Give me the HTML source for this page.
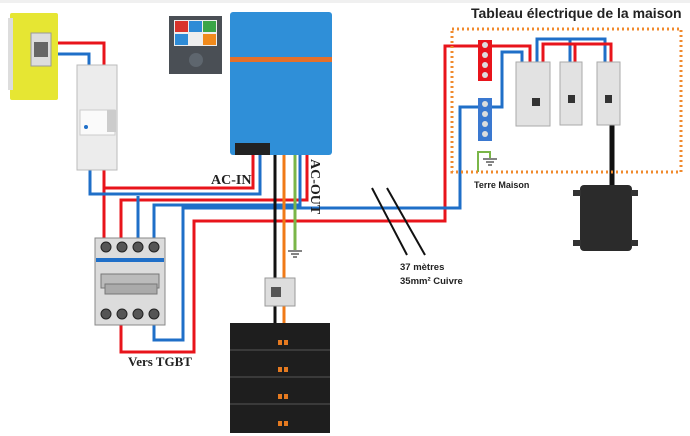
<!DOCTYPE html>
<html><head><meta charset="utf-8"><style>
html,body{margin:0;padding:0;background:#fff;width:690px;height:436px;overflow:hidden}
svg{display:block}
.t{font-family:"Liberation Sans",sans-serif;font-weight:bold}
.s{font-family:"Liberation Serif",serif;font-weight:bold}
</style></head><body>
<svg width="690" height="436" viewBox="0 0 690 436" xmlns="http://www.w3.org/2000/svg">
<rect width="690" height="436" fill="#fff"/>
<rect x="0" y="0" width="690" height="3" fill="#f0f0f0"/>
<!-- wires -->
<g fill="none" stroke-width="3">
<polyline points="58,43 104,43 104,66" stroke="#e8141b"/>
<polyline points="58,54 89,54 89,66" stroke="#1f6fc8"/>
<polyline points="104,168 104,240" stroke="#e8141b"/>
<polyline points="104,188 253,188 253,155" stroke="#e8141b"/>
<polyline points="90,168 90,194 260,194 260,155" stroke="#1f6fc8"/>
<polyline points="121,240 121,200 307,200 307,155" stroke="#e8141b"/>
<polyline points="138,240 138,196" stroke="#1f6fc8"/>
<polyline points="154,240 154,205 300,205 300,155" stroke="#1f6fc8"/>
<polyline points="121,324 121,352 194,352 194,221 445,221 445,46 478,46" stroke="#e8141b"/>
<polyline points="154,324 154,340 183,340 183,208 460,208 460,107 478,107" stroke="#1f6fc8"/>
<line x1="275" y1="155" x2="275" y2="323" stroke="#111"/>
<line x1="284" y1="155" x2="284" y2="323" stroke="#f07a17"/>
<line x1="295" y1="155" x2="295" y2="250" stroke="#7ab648"/>
<polyline points="492,46 530,46 530,65" stroke="#e8141b"/>
<polyline points="492,107 502,107 502,52 522,52 522,65" stroke="#1f6fc8"/>
<polyline points="537,65 537,39 605,39 605,65" stroke="#1f6fc8"/>
<polyline points="570,65 570,39" stroke="#1f6fc8"/>
<polyline points="543,65 543,44 611,44 611,65" stroke="#e8141b"/>
<polyline points="575,65 575,44" stroke="#e8141b"/>
<polyline points="478,172 478,152 490,152 490,158" stroke="#7ab648" stroke-width="2"/>
<line x1="612" y1="125" x2="612" y2="187" stroke="#111" stroke-width="5"/>
</g>
<!-- grounds -->
<g stroke="#333" stroke-width="1.2">
<line x1="288" y1="251" x2="302" y2="251"/><line x1="291" y1="254" x2="299" y2="254"/><line x1="293" y1="257" x2="297" y2="257"/>
<line x1="483" y1="159" x2="497" y2="159"/><line x1="486" y1="162" x2="494" y2="162"/><line x1="488" y1="165" x2="492" y2="165"/>
</g>
<!-- meter -->
<rect x="10" y="13" width="48" height="87" fill="#e6e633" rx="2"/>
<rect x="8" y="18" width="5" height="72" fill="#ddd"/>
<rect x="31" y="33" width="20" height="33" fill="#ddd" stroke="#999"/>
<rect x="34" y="42" width="14" height="15" fill="#666"/>
<!-- breaker -->
<rect x="77" y="65" width="40" height="105" fill="#ececec" stroke="#bbb"/>
<rect x="80" y="110" width="35" height="25" fill="#fafafa" stroke="#ccc"/>
<rect x="107" y="110" width="9" height="22" fill="#ccc"/>
<circle cx="86" cy="127" r="2" fill="#1f6fc8"/>
<!-- control panel -->
<rect x="169" y="16" width="53" height="58" fill="#4a4f55"/>
<rect x="174" y="20" width="43" height="26" fill="#eee"/>
<rect x="175" y="21" width="13" height="11" fill="#d9342c"/><rect x="189" y="21" width="13" height="11" fill="#2e8bd6"/><rect x="203" y="21" width="13" height="11" fill="#3aa548"/>
<rect x="175" y="34" width="13" height="11" fill="#2e8bd6"/><rect x="203" y="34" width="13" height="11" fill="#f08a1c"/>
<circle cx="196" cy="60" r="7" fill="#5e666e"/>
<!-- multiplus -->
<rect x="230" y="12" width="102" height="143" fill="#2f8fd8" rx="3"/>
<rect x="230" y="57" width="102" height="5" fill="#e5702a"/>
<rect x="235" y="143" width="35" height="12" fill="#222"/>
<!-- contactor -->
<rect x="95" y="238" width="70" height="87" fill="#dcdcdc" stroke="#888"/>
<rect x="96" y="258" width="68" height="4" fill="#1f6fc8"/>
<g fill="#555" stroke="#222"><circle cx="106" cy="247" r="5"/><circle cx="122" cy="247" r="5"/><circle cx="138" cy="247" r="5"/><circle cx="154" cy="247" r="5"/>
<circle cx="106" cy="314" r="5"/><circle cx="122" cy="314" r="5"/><circle cx="138" cy="314" r="5"/><circle cx="154" cy="314" r="5"/></g>
<rect x="101" y="274" width="58" height="14" fill="#bbb" stroke="#777"/>
<rect x="105" y="284" width="52" height="10" fill="#aaa" stroke="#777"/>
<!-- small box & batteries -->
<rect x="265" y="278" width="30" height="28" fill="#ddd" stroke="#999"/>
<rect x="271" y="287" width="10" height="10" fill="#555"/>
<rect x="230" y="323" width="100" height="110" fill="#1e1e1e"/>
<g stroke="#555"><line x1="230" y1="350" x2="330" y2="350"/><line x1="230" y1="377" x2="330" y2="377"/><line x1="230" y1="404" x2="330" y2="404"/></g>
<g fill="#e57a20"><rect x="278" y="340" width="4" height="5"/><rect x="284" y="340" width="4" height="5"/><rect x="278" y="367" width="4" height="5"/><rect x="284" y="367" width="4" height="5"/><rect x="278" y="394" width="4" height="5"/><rect x="284" y="394" width="4" height="5"/><rect x="278" y="421" width="4" height="5"/><rect x="284" y="421" width="4" height="5"/></g>
<!-- house panel -->
<rect x="452" y="29" width="229" height="143" fill="none" stroke="#f08a2c" stroke-width="3" stroke-dasharray="2,3"/>
<rect x="478" y="40" width="14" height="41" fill="#e8141b"/>
<rect x="478" y="98" width="14" height="43" fill="#3a78d0"/>
<g fill="#ddd"><circle cx="485" cy="45" r="3"/><circle cx="485" cy="55" r="3"/><circle cx="485" cy="65" r="3"/><circle cx="485" cy="75" r="3"/>
<circle cx="485" cy="104" r="3"/><circle cx="485" cy="114" r="3"/><circle cx="485" cy="124" r="3"/><circle cx="485" cy="134" r="3"/></g>
<rect x="516" y="62" width="34" height="64" fill="#e2e2e2" stroke="#aaa"/>
<rect x="560" y="62" width="22" height="63" fill="#e2e2e2" stroke="#aaa"/>
<rect x="597" y="62" width="23" height="63" fill="#e2e2e2" stroke="#aaa"/>
<rect x="532" y="98" width="8" height="8" fill="#333"/><rect x="568" y="95" width="7" height="8" fill="#333"/><rect x="605" y="95" width="7" height="8" fill="#333"/>
<!-- micro-inverter -->
<rect x="580" y="185" width="52" height="66" fill="#2b2b2b" rx="4"/>
<rect x="573" y="190" width="8" height="6" fill="#333"/><rect x="631" y="190" width="7" height="6" fill="#333"/><rect x="573" y="240" width="8" height="6" fill="#333"/><rect x="631" y="240" width="7" height="6" fill="#333"/>
<!-- cut marks -->
<g stroke="#111" stroke-width="2"><line x1="372" y1="188" x2="407" y2="255"/><line x1="387" y1="188" x2="425" y2="255"/></g>
<!-- text -->
<text x="471" y="18" class="t" font-size="14" fill="#222">Tableau électrique de la maison</text>
<text x="474" y="188" class="t" font-size="9" fill="#222">Terre Maison</text>
<text x="400" y="270" class="t" font-size="9.5" fill="#222">37 mètres</text>
<text x="400" y="284" class="t" font-size="9.5" fill="#222">35mm² Cuivre</text>
<text x="211" y="184" class="s" font-size="14" fill="#222">AC-IN</text>
<text x="0" y="0" class="s" font-size="14" fill="#222" transform="translate(311,159) rotate(90)">AC-OUT</text>
<text x="128" y="366" class="s" font-size="13" fill="#222">Vers TGBT</text>
</svg>
</body></html>
